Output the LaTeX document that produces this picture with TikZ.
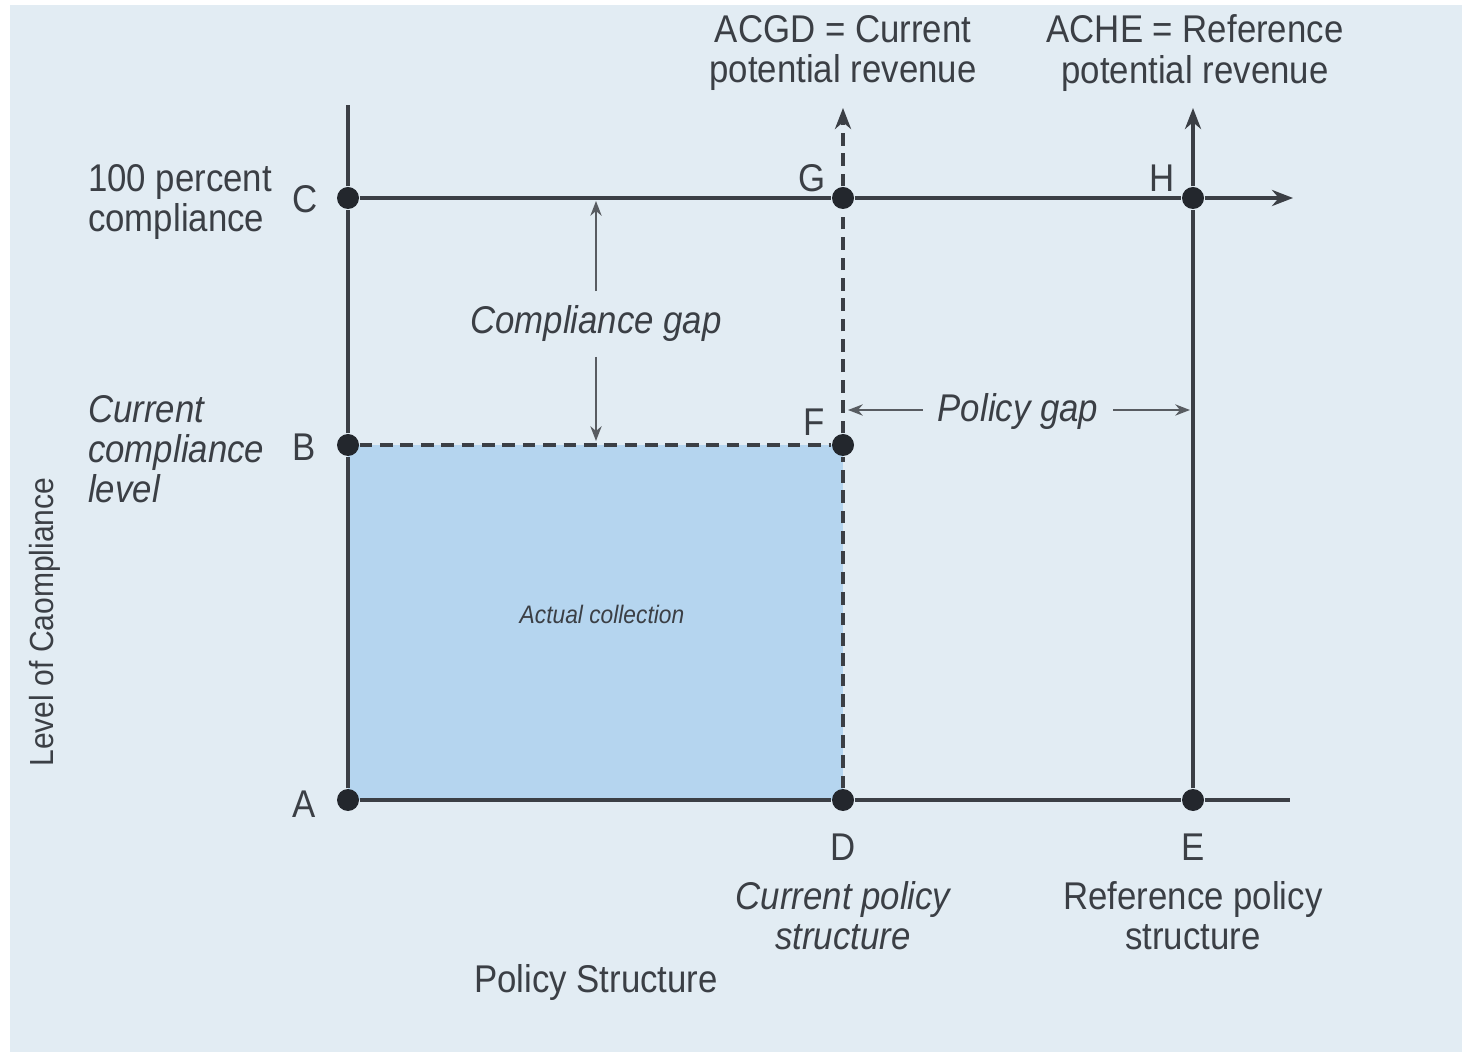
\documentclass[tikz,border=0pt]{standalone}
\usepackage{fontspec}
\setmainfont{Liberation Sans}[FakeStretch=0.9]
\usetikzlibrary{arrows.meta,backgrounds}
\definecolor{bgblue}{HTML}{E2ECF3}
\definecolor{fillblue}{HTML}{B5D5EF}
\definecolor{inkgray}{HTML}{3B3F45}
\definecolor{dotgray}{HTML}{23272D}
\tikzset{
  dot/.style={circle,fill=dotgray,inner sep=0pt,minimum size=0.22cm},
  axis/.style={draw=inkgray,line width=0.9pt},
  dashline/.style={axis,dash pattern=on 3.6pt off 2.2pt},
  lbl/.style={text=inkgray,font=\fontsize{11}{11.4}\selectfont,inner sep=1pt},
  ilbl/.style={lbl,font=\fontsize{11}{11.4}\selectfont\itshape},
  bigtip/.style={-{Stealth[length=6pt,width=4.6pt]}},
  smalltip/.style={draw=inkgray!85,line width=0.6pt,-{Stealth[length=4.2pt,width=3.2pt]}}
}
\begin{document}
\begin{tikzpicture}
  \useasboundingbox (0,0) rectangle (14.66,10.56);
  \node[dot] (A) at (3.48,2.56) {};
  \node[dot] (B) at (3.48,6.11) {};
  \node[dot] (C) at (3.48,8.58) {};
  \node[dot] (D) at (8.43,2.56) {};
  \node[dot] (E) at (11.93,2.56) {};
  \node[dot] (F) at (8.43,6.11) {};
  \node[dot] (G) at (8.43,8.58) {};
  \node[dot] (H) at (11.93,8.58) {};
  \coordinate (ytop)  at (3.48,9.51);
  \coordinate (xend)  at (12.93,8.58);
  \coordinate (bend)  at (12.90,2.56);
  \coordinate (Gtop)  at (8.43,9.48);
  \coordinate (Htop)  at (11.93,9.48);
  \begin{scope}[on background layer]
    \fill[white] (0,0) rectangle (14.66,10.56);
    \fill[bgblue] (0.10,0.04) rectangle (14.62,10.51);
    \fill[fillblue] (A.center) rectangle (F.center);
  \end{scope}
  % axes and grid lines
  \draw[axis] (A) -- (B);
  \draw[axis] (B) -- (C);
  \draw[axis] (C) -- (ytop);
  \draw[axis] (A) -- (D);
  \draw[axis] (D) -- (E);
  \draw[axis] (E) -- (bend);
  \draw[axis] (C) -- (G);
  \draw[axis] (G) -- (H);
  \draw[axis,bigtip] (H) -- (xend);
  \draw[axis] (E) -- (H);
  \draw[axis,bigtip] (H) -- (Htop);
  \draw[dashline] (D) -- (F);
  \draw[dashline] (F) -- (G);
  \draw[dashline,bigtip] (G) -- (Gtop);
  \draw[dashline] (B) -- (F);
  % point letters
  \node[lbl] (Cl) at (3.05,8.57) {C};
  \node[lbl] (Bl) at (3.04,6.09) {B};
  \node[lbl] (Al) at (3.04,2.52) {A};
  \node[lbl] (Gl) at (8.12,8.78) {G};
  \node[lbl] (Hl) at (11.62,8.78) {H};
  \node[lbl] (Fl) at (8.14,6.34) {F};
  \node[lbl] (Dl) at (8.43,2.09) {D};
  \node[lbl] (El) at (11.93,2.09) {E};
  % texts
  \node[lbl,anchor=west,align=left] (full) at (0.84,8.54) {100 percent\\compliance};
  \node[ilbl,anchor=west,align=left] (curlev) at (0.84,6.07) {Current\\compliance\\level};
  \node[lbl,align=center] (acgd) at (8.43,10.03) {ACGD = Current\\potential revenue};
  \node[lbl,align=center] (ache) at (11.95,10.03) {ACHE = Reference\\potential revenue};
  \node[ilbl,align=center] (curpol) at (8.43,1.40) {Current policy\\structure};
  \node[lbl,align=center] (refpol) at (11.93,1.40) {Reference policy\\structure};
  \node[lbl] (xlab) at (5.96,0.73) {Policy Structure};
  \node[lbl,rotate=90,font=\fontsize{9.5}{10}\selectfont] (ylab) at (0.45,4.34) {Level of Caompliance};
  \node[text=inkgray,font=\fontsize{7.2}{8}\selectfont\itshape] (actual) at (6.02,4.42) {Actual collection};
  % gaps
  \node[ilbl,inner sep=4pt] (cgap) at (5.96,7.32) {Compliance gap};
  \coordinate (cgtop) at (5.96,8.55);
  \coordinate (cgbot) at (5.96,6.15);
  \draw[smalltip] (cgap.north) -- (cgtop);
  \draw[smalltip] (cgap.south) -- (cgbot);
  \node[ilbl,inner sep=4pt] (pgap) at (10.18,6.44) {Policy gap};
  \coordinate (pgl) at (8.48,6.46);
  \coordinate (pgr) at (11.90,6.46);
  \draw[smalltip] (pgap.west |- pgl) -- (pgl);
  \draw[smalltip] (pgap.east |- pgr) -- (pgr);
\end{tikzpicture}
\end{document}
